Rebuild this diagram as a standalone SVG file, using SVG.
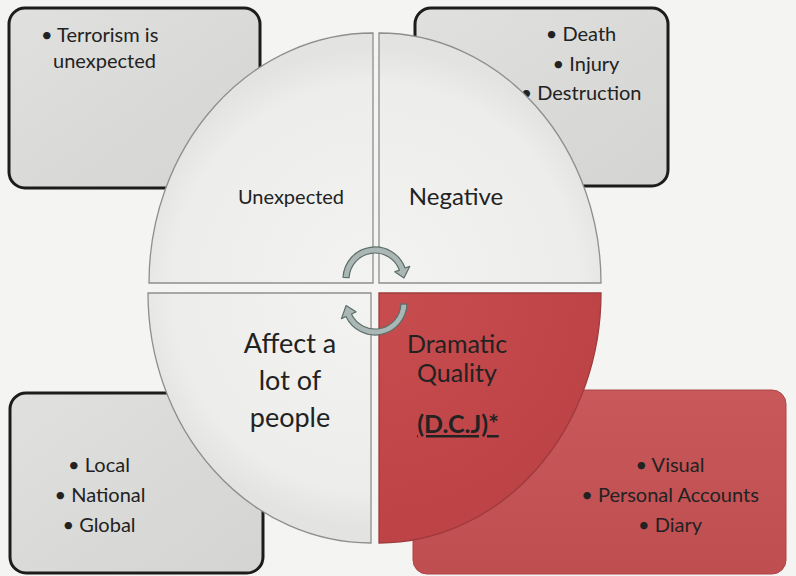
<svg xmlns="http://www.w3.org/2000/svg" width="796" height="576" viewBox="0 0 796 576">
  <defs>
    <linearGradient id="boxGray" x1="0" y1="0" x2="1" y2="1">
      <stop offset="0" stop-color="#e0e0de"/>
      <stop offset="1" stop-color="#d4d4d2"/>
    </linearGradient>
    <linearGradient id="boxRed" x1="0" y1="0" x2="0" y2="1">
      <stop offset="0" stop-color="#c8585a"/>
      <stop offset="1" stop-color="#bf4e51"/>
    </linearGradient>
    <radialGradient id="segGray" cx="375" cy="288" r="240" gradientUnits="userSpaceOnUse">
      <stop offset="0" stop-color="#f3f3f1"/>
      <stop offset="0.85" stop-color="#ededeb"/>
      <stop offset="1" stop-color="#e3e3e1"/>
    </radialGradient>
    <radialGradient id="segRed" cx="375" cy="288" r="240" gradientUnits="userSpaceOnUse">
      <stop offset="0" stop-color="#c84d4f"/>
      <stop offset="1" stop-color="#bd4346"/>
    </radialGradient>
  </defs>
  <style>
    .box { fill: url(#boxGray); stroke: #1c1c1c; stroke-width: 3; }
    .boxred { fill: url(#boxRed); stroke: #ad4548; stroke-width: 1; }
    .seg { fill: url(#segGray); stroke: #8e8e8c; stroke-width: 1.3; }
    .segred { fill: url(#segRed); stroke: #9e3b3d; stroke-width: 1.3; }
    .arrow { fill: #aab7b4; stroke: #5c6e6a; stroke-width: 1.2; stroke-linejoin: round; }
    text { font-family: Lato, "Open Sans", "Liberation Sans", sans-serif; fill: #222222; }
    .bul { font-size: 20px; text-anchor: middle; }
    .lab { text-anchor: middle; }
  </style>

  <rect width="796" height="576" fill="#f4f4f2"/>

  <!-- detail boxes (behind the circle) -->
  <g id="box-unexpected">
    <rect class="box" x="9" y="8" width="251" height="180" rx="16"/>
    <text font-size="20" x="41" y="42">• Terrorism is</text>
    <text font-size="20" x="53" y="68">unexpected</text>
  </g>
  <g id="box-negative">
    <rect class="box" x="415" y="8" width="253" height="178" rx="16"/>
    <text class="bul" x="581" y="41">• Death</text>
    <text class="bul" x="586" y="70.5">• Injury</text>
    <text class="bul" x="581" y="100">• Destruction</text>
  </g>
  <g id="box-affect">
    <rect class="box" x="10" y="393" width="253" height="180" rx="16"/>
    <text class="bul" x="99" y="472">• Local</text>
    <text class="bul" x="100" y="502">• National</text>
    <text class="bul" x="99" y="532">• Global</text>
  </g>
  <g id="box-dramatic">
    <rect class="boxred" x="413" y="390" width="373" height="184" rx="14"/>
    <text class="bul" x="670" y="472">• Visual</text>
    <text class="bul" x="670" y="502">• Personal Accounts</text>
    <text class="bul" x="670" y="532">• Diary</text>
  </g>

  <!-- circle quadrants -->
  <g id="seg-unexpected">
    <path class="seg" d="M373,283 L149,283 A224,250 0 0 1 373,33 Z"/>
    <text class="lab" font-size="20" x="291" y="204">Unexpected</text>
  </g>
  <g id="seg-negative">
    <path class="seg" d="M379,283 L379,33 A222,250 0 0 1 601,283 Z"/>
    <text class="lab" font-size="24" x="456" y="205">Negative</text>
  </g>
  <g id="seg-affect">
    <path class="seg" d="M371,293 L371,543 A223,250 0 0 1 148,293 Z"/>
    <text class="lab" font-size="27" x="290" y="353">Affect a</text>
    <text class="lab" font-size="27" x="290" y="390">lot of</text>
    <text class="lab" font-size="27" x="290" y="427">people</text>
  </g>
  <g id="seg-dramatic">
    <path class="segred" d="M379,293 L601,293 A222,250 0 0 1 379,543 Z"/>
    <text class="lab" font-size="25" x="457" y="353">Dramatic</text>
    <text class="lab" font-size="25" x="457" y="382">Quality</text>
    <text class="lab" font-size="25" font-weight="bold" text-decoration="underline" x="458" y="433">(D.C.J)*</text>
  </g>

  <!-- cycle arrows -->
  <g id="connectors">
    <path class="arrow" d="M343.04,277.33 A32,32 0 0 1 405.07,268.06 L409.77,266.35 L403.98,277.99 L394.73,271.82 L399.43,270.11 A26,26 0 0 0 349.04,277.64 Z"/>
    <path class="arrow" d="M406.98,304.12 A32,32 0 0 1 346.00,316.52 L341.47,318.64 L346.11,305.53 L355.97,311.87 L351.44,313.99 A26,26 0 0 0 400.98,303.91 Z"/>
  </g>
</svg>
